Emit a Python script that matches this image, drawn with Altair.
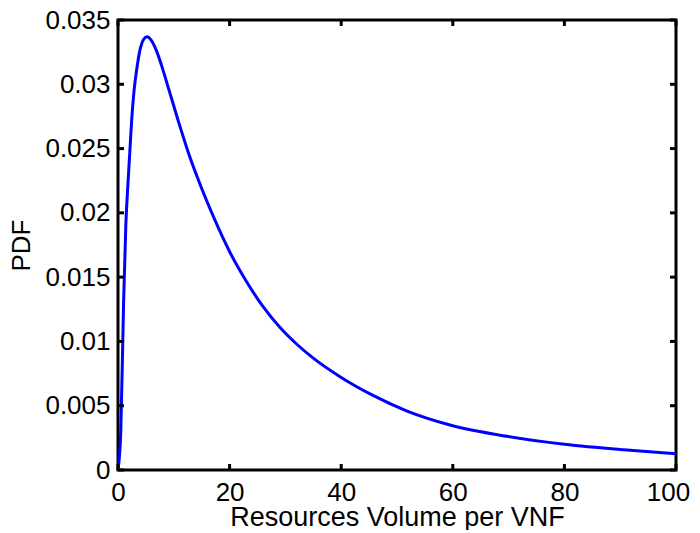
import altair as alt
import pandas as pd

# Curve values
xs = [0, 0.5, 1.0, 1.4, 1.75, 2.1, 2.45, 2.9, 3.4, 4.0, 4.6, 5.2, 6.0, 6.9, 8.0,
      8.9, 10.7, 12.6, 14.1, 17.1, 20.1, 23.1, 26.0, 29.0, 32.0, 35.0, 40.0, 45.7,
      51.7, 59.5, 69.7, 80.0, 90.6, 100]
ys = [0, 0.003, 0.0130, 0.0190, 0.0220, 0.0246, 0.0272, 0.0296, 0.0313, 0.0328,
      0.0335, 0.0337, 0.0334, 0.0326, 0.0312, 0.0299, 0.0273, 0.0247, 0.0229,
      0.0197, 0.0169, 0.0146, 0.0127, 0.0111, 0.0098, 0.0087, 0.0072, 0.0058,
      0.0046, 0.0035, 0.00262, 0.00200, 0.00157, 0.00127]

x_ticks = [0, 20, 40, 60, 80, 100]
y_ticks = [0, 0.005, 0.01, 0.015, 0.02, 0.025, 0.03, 0.035]

W, H = 558, 450
FONT = "Liberation Sans"
FS = 26

df = pd.DataFrame({"x": xs, "y": ys})
xt = pd.DataFrame({"x": x_ticks})
yt = pd.DataFrame({"y": y_ticks})

xscale = alt.Scale(domain=[0, 100], nice=False, zero=False)
yscale = alt.Scale(domain=[0, 0.035], nice=False, zero=False)

line = alt.Chart(df).mark_line(color="#0000ff", strokeWidth=3, interpolate="monotone").encode(
    x=alt.X("x:Q", scale=xscale,
            axis=alt.Axis(title="Resources Volume per VNF", values=x_ticks, grid=False,
                          domain=False, ticks=False, labelFont=FONT, labelFontSize=FS,
                          labelPadding=9, labelFlush=False,
                          labelOffset={"condition": {"test": "datum.value >= 100", "value": -8},
                                       "value": 0},
                          titleFont=FONT, titleFontSize=27, titleFontWeight="normal",
                          titlePadding=-1, labelColor="black", titleColor="black")),
    y=alt.Y("y:Q", scale=yscale,
            axis=alt.Axis(title="PDF", values=y_ticks, grid=False, format="~g",
                          domain=False, ticks=False, labelFont=FONT, labelFontSize=FS,
                          labelPadding=8, labelFlush=False, titleFont=FONT,
                          titleFontSize=FS, titleFontWeight="normal", titlePadding=10,
                          labelColor="black", titleColor="black")),
)

tick_len = 6
bottom = alt.Chart(xt).mark_rule(color="black", strokeWidth=3).encode(
    x=alt.X("x:Q", scale=xscale), y=alt.value(H), y2=alt.value(H - tick_len))
top = alt.Chart(xt).mark_rule(color="black", strokeWidth=3).encode(
    x=alt.X("x:Q", scale=xscale), y=alt.value(0), y2=alt.value(tick_len))
left = alt.Chart(yt).mark_rule(color="black", strokeWidth=3).encode(
    y=alt.Y("y:Q", scale=yscale), x=alt.value(0), x2=alt.value(tick_len))
right = alt.Chart(yt).mark_rule(color="black", strokeWidth=3).encode(
    y=alt.Y("y:Q", scale=yscale), x=alt.value(W), x2=alt.value(W - tick_len))

chart = alt.layer(line, bottom, top, left, right).properties(
    width=W, height=H,
    autosize=alt.AutoSizeParams(type="none"),
    padding={"left": 110, "top": 12, "right": 14, "bottom": 60},
).configure_view(stroke="black", strokeWidth=3)

chart.save("out.html", embed_options={"renderer": "svg", "actions": False})
